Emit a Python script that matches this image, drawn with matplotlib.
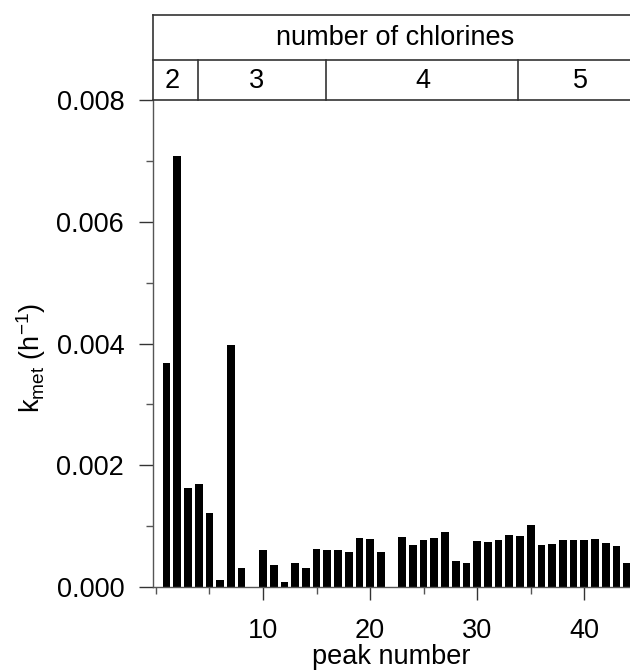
import matplotlib.pyplot as plt
import numpy as np
from matplotlib.ticker import MultipleLocator

plt.rcParams['font.family'] = ['Liberation Sans', 'DejaVu Sans']
plt.rcParams['mathtext.fontset'] = 'custom'
plt.rcParams['mathtext.rm'] = 'Liberation Sans'
plt.rcParams['mathtext.it'] = 'Liberation Sans'

# velocidad de metabolizacion por pico (h^-1), picos 1..44
peaks = np.arange(1, 45)
kmet = [0.00368, 0.00708, 0.00162, 0.00169, 0.00122, 0.00012, 0.00398, 0.00031,
        0.0, 0.00060, 0.00036, 0.00008, 0.00040, 0.00031, 0.00062, 0.00060,
        0.00061, 0.00058, 0.00080, 0.00079, 0.00058, 0.0, 0.00082, 0.00069,
        0.00077, 0.00081, 0.00090, 0.00043, 0.00039, 0.00075, 0.00074, 0.00078,
        0.00085, 0.00083, 0.00102, 0.00069, 0.00071, 0.00077, 0.00077, 0.00078,
        0.00079, 0.00073, 0.00068, 0.00039]

# grupos de cloros
grupos = ['2', '3', '4', '5']
bordes = [3.9, 15.85, 33.8]
pos_grupos = [1.5, 9.4, 24.9, 39.6]

fs = 19.5
W, H = 630, 671
fig = plt.figure(figsize=(W / 100, H / 100), dpi=100)
x0, x1 = 153.3 / W, 1.0
yb, yt = (H - 587) / H, (H - 100) / H
ax = fig.add_axes([x0, yb, x1 - x0, yt - yb])
axh = fig.add_axes([x0, yt, x1 - x0, (H - 15) / H - yt], sharex=ax)

ax.bar(peaks, kmet, width=0.72, color='black')
ax.set_xlim(-0.24, 44.27)
ax.set_ylim(0, 0.008)
ax.set_xticks([10, 20, 30, 40])
ax.xaxis.set_minor_locator(MultipleLocator(5))
ax.yaxis.set_major_locator(MultipleLocator(0.002))
ax.yaxis.set_minor_locator(MultipleLocator(0.001))
ax.yaxis.set_major_formatter(plt.FuncFormatter(lambda v, p: '%.3f' % v))
for s in ['top', 'right']:
    ax.spines[s].set_visible(False)
for s in ['left', 'bottom']:
    ax.spines[s].set_color('#555555')
    ax.spines[s].set_linewidth(1.0)
ax.tick_params(axis='y', which='major', length=10, width=1, pad=11, labelsize=fs, color='#333333')
ax.tick_params(axis='y', which='minor', length=5, width=1, color='#555555')
ax.tick_params(axis='x', which='major', length=9, width=1, pad=13, labelsize=fs, color='#333333')
ax.tick_params(axis='x', which='minor', length=5, width=1, color='#555555')
ax.set_xlabel('peak number', fontsize=fs, labelpad=0)
ax.set_ylabel(r'k$_{\mathrm{met}}$ (h$^{-1}$)', fontsize=fs, labelpad=6)
ax.yaxis.label.set_y(0.47)

# cabecera: numero de cloros
axh.set_ylim(0, 2)
axh.axis('off')
lc = '#333333'
mid = 0.93
axh.plot([-0.24, 44.27], [2, 2], color=lc, lw=1.2, clip_on=False)
axh.plot([-0.24, 44.27], [mid, mid], color=lc, lw=1.2, clip_on=False)
axh.plot([-0.24, 44.27], [0, 0], color=lc, lw=1.2, clip_on=False)
axh.plot([-0.24, -0.24], [0, 2], color=lc, lw=1.2, clip_on=False)
for b in bordes:
    axh.plot([b, b], [0, mid], color=lc, lw=1.2, clip_on=False)
axh.text(22.3, 1.46, 'number of chlorines', ha='center', va='center', fontsize=fs)
for g, p in zip(grupos, pos_grupos):
    axh.text(p, 0.45, g, ha='center', va='center', fontsize=fs)

fig.savefig('out.png', dpi=100)
